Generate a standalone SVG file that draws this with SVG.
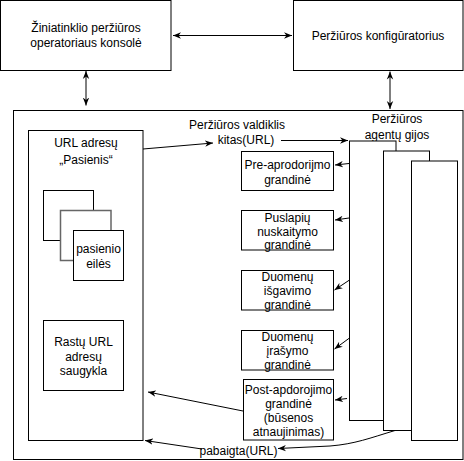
<svg xmlns="http://www.w3.org/2000/svg" width="464" height="461" viewBox="0 0 464 461">
<style>
.box{fill:#fff;stroke:#000;stroke-width:1}
.gray{fill:#fff;stroke:#666;stroke-width:1.5}
.t{font-family:"Liberation Sans",Arial,sans-serif;font-size:12px;fill:#000;text-anchor:middle}
.c{fill:none;stroke:#000;stroke-width:1}
.a{marker-end:url(#arr)}
.d{marker-start:url(#arr);marker-end:url(#arr)}
</style>
<defs>
<marker id="arr" viewBox="0 0 10 10" refX="10" refY="5" markerWidth="8" markerHeight="8" markerUnits="userSpaceOnUse" orient="auto-start-reverse">
<path d="M0,1 L10,5 L0,9 L3,5 z" fill="#000"/>
</marker>
</defs>
<rect width="464" height="461" fill="#fff"/>

<g id="controller">
<rect class="box" x="13.5" y="110.5" width="449.5" height="349"/>
<text class="t" x="237" y="129">Peržiūros valdiklis</text>
</g>

<g id="console">
<rect class="box" x="0.5" y="0.5" width="170.5" height="70"/>
<text class="t" x="86" y="32">Žiniatinklio peržiūros</text>
<text class="t" x="86" y="47">operatoriaus konsolė</text>
</g>

<g id="configurator">
<rect class="box" x="293.5" y="0.5" width="169.5" height="70"/>
<text class="t" x="378" y="40">Peržiūros konfigūratorius</text>
</g>

<g id="frontier">
<rect class="box" x="28.5" y="130.5" width="114.5" height="310"/>
<text class="t" x="86" y="147">URL adresų</text>
<text class="t" x="86" y="164">„Pasienis“</text>
</g>

<g id="queues">
<rect class="box" x="43.5" y="190.5" width="50" height="50"/>
<rect class="gray" x="60.5" y="210.5" width="50.5" height="50"/>
<rect class="box" x="73.5" y="230.5" width="50" height="50"/>
<text class="t" x="98.5" y="253">pasienio</text>
<text class="t" x="98.5" y="268">eilės</text>
</g>

<g id="store">
<rect class="box" x="43.5" y="320.5" width="80" height="70"/>
<text class="t" x="83.5" y="346">Rastų URL</text>
<text class="t" x="83.5" y="361">adresų</text>
<text class="t" x="83.5" y="375">saugykla</text>
</g>

<g id="agents">
<text class="t" x="397" y="123">Peržiūros</text>
<text class="t" x="397" y="139">agentų gijos</text>
<rect class="box" x="349.5" y="141" width="46.5" height="279.5"/>
<rect class="box" x="383.5" y="151" width="46" height="279.5"/>
<rect class="box" x="411.5" y="161" width="46" height="279.5"/>
</g>

<g id="pre">
<rect class="box" x="241.5" y="151.5" width="92" height="39"/>
<text class="t" x="287.5" y="169">Pre-aprodorijmo</text>
<text class="t" x="287.5" y="184">grandinė</text>
</g>

<g id="fetch">
<rect class="box" x="241.5" y="210.5" width="92" height="39.5"/>
<text class="t" x="287.5" y="222">Puslapių</text>
<text class="t" x="287.5" y="236">nuskaitymo</text>
<text class="t" x="287.5" y="249">grandinė</text>
</g>

<g id="extract">
<rect class="box" x="241.5" y="270.5" width="92" height="39.5"/>
<text class="t" x="287.5" y="281">Duomenų</text>
<text class="t" x="287.5" y="295">išgavimo</text>
<text class="t" x="287.5" y="309">grandinė</text>
</g>

<g id="write">
<rect class="box" x="241.5" y="330.5" width="92" height="39.5"/>
<text class="t" x="287.5" y="341">Duomenų</text>
<text class="t" x="287.5" y="355">įrašymo</text>
<text class="t" x="287.5" y="369">grandinė</text>
</g>

<g id="post">
<rect class="box" x="243.5" y="379.5" width="90" height="60.5"/>
<text class="t" x="288.5" y="394">Post-apdorojimo</text>
<text class="t" x="288.5" y="408">grandinė</text>
<text class="t" x="288.5" y="422">(būsenos</text>
<text class="t" x="288.5" y="436">atnaujinimas)</text>
</g>

<g id="connectors">
<line class="c d" x1="173" y1="35.5" x2="292" y2="35.5"/>
<line class="c d" x1="86" y1="71" x2="86" y2="105.5"/>
<line class="c d" x1="390" y1="71.5" x2="390" y2="109"/>
<line class="c a" x1="143" y1="149" x2="213" y2="143"/>
<text class="t" x="246" y="144">kitas(URL)</text>
<line class="c a" x1="281" y1="140.5" x2="348" y2="140.5"/>
<line class="c a" x1="349" y1="163.5" x2="335" y2="165"/>
<line class="c a" x1="349" y1="218" x2="335" y2="220"/>
<line class="c a" x1="349.5" y1="280" x2="334.5" y2="290"/>
<line class="c a" x1="349.5" y1="338" x2="334.5" y2="349"/>
<line class="c a" x1="347" y1="398.5" x2="335" y2="400"/>
<line class="c a" x1="243" y1="411" x2="148" y2="392"/>
<path class="c a" d="M395,430.5 C370,438 355,444 330,446 L278,448.5"/>
<line class="c a" x1="202" y1="449" x2="145" y2="440.5"/>
<text class="t" x="238.5" y="455">pabaigta(URL)</text>
</g>
</svg>
